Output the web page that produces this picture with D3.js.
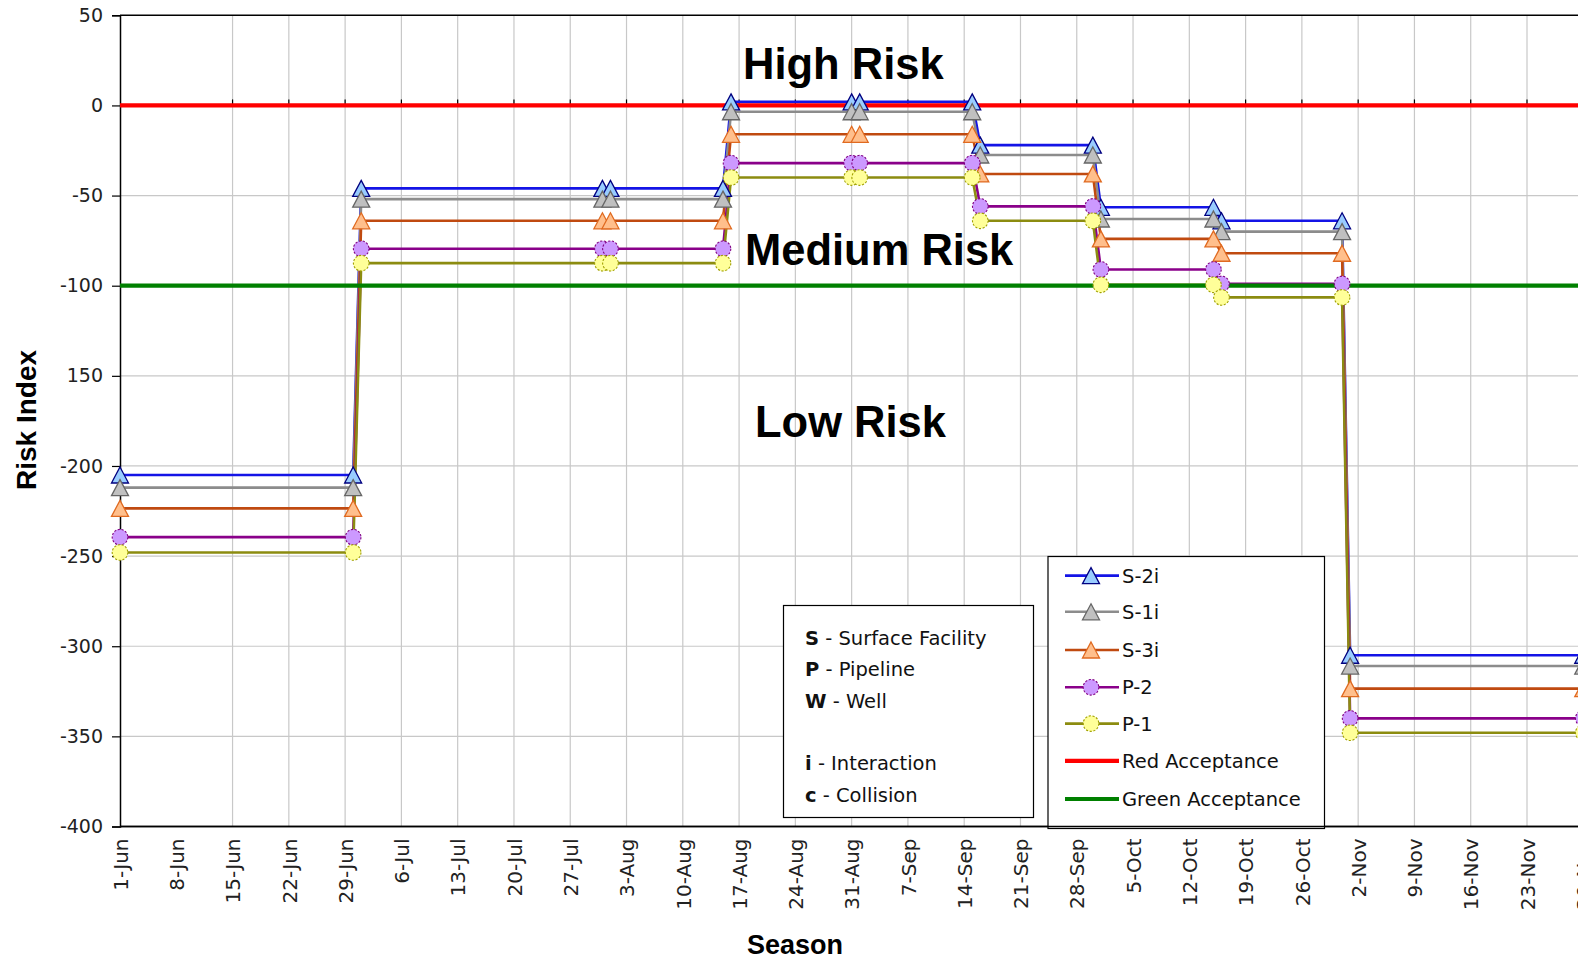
<!DOCTYPE html>
<html><head><meta charset="utf-8">
<script src="https://cdn.jsdelivr.net/npm/d3@7"></script>
<style>body{margin:0;background:#fff} svg{display:block}</style>
</head><body><svg id="c" width="1578" height="960"></svg>
<script>
// ---------- DATA ----------
const pointDates = ["1-Jun","30-Jun","1-Jul","31-Jul","1-Aug","15-Aug","16-Aug","31-Aug","1-Sep","15-Sep","16-Sep","30-Sep","1-Oct","15-Oct","16-Oct","31-Oct","1-Nov","30-Nov"];
const seriesNames = ["S-2i","S-1i","S-3i","P-2","P-1"];
const valS2i = [-205,-205,-46,-46,-46,-46,2,2,2,2,-22,-22,-56.5,-56.5,-64,-64,-305,-305];
const valS1i = [-212,-212,-52,-52,-52,-52,-3.5,-3.5,-3.5,-3.5,-27.5,-27.5,-63,-63,-70,-70,-311,-311];
const valS3i = [-223.5,-223.5,-64,-64,-64,-64,-16,-16,-16,-16,-38,-38,-74,-74,-82,-82,-323.5,-323.5];
const valP2  = [-239.5,-239.5,-79.5,-79.5,-79.5,-79.5,-32,-32,-32,-32,-56,-56,-91,-91,-99,-99,-340,-340];
const valP1  = [-248,-248,-87.5,-87.5,-87.5,-87.5,-40,-40,-40,-40,-64,-64,-99.5,-99.5,-106.5,-106.5,-348,-348];
const acceptanceNames = ["Red Acceptance","Green Acceptance"];
const acceptanceValues = [0,-100];
const yTickValues = [50,0,-50,-100,-150,-200,-250,-300,-350,-400];
const yTickLabels = ["50","0","-50","-100","150","-200","-250","-300","-350","-400"];
const xTickLabels = ["1-Jun","8-Jun","15-Jun","22-Jun","29-Jun","6-Jul","13-Jul","20-Jul","27-Jul","3-Aug","10-Aug","17-Aug","24-Aug","31-Aug","7-Sep","14-Sep","21-Sep","28-Sep","5-Oct","12-Oct","19-Oct","26-Oct","2-Nov","9-Nov","16-Nov","23-Nov","30-Nov"];
const xGridLabels = xTickLabels.slice(2);
const zoneLabels = ["High Risk","Medium Risk","Low Risk"];
const keyLetters = ["S","P","W",null,"i","c"];
const keyMeanings = ["Surface Facility","Pipeline","Well",null,"Interaction","Collision"];

// ---------- SETUP ----------
const parse = s => d3.utcParse("%d-%b-%Y")(s + "-2007");
const W = 1578, H = 960;
const plotL = 120, plotT = 15.3, plotB = 826.5;
const x = d3.scaleUtc().domain([parse("1-Jun"), parse("7-Dec")]).range([plotL, plotL + 189 * 8.04]);
const y = d3.scaleLinear().domain([-400, 50]).range([plotB, plotT]);
const svg = d3.select("#c");
const FONT = "DejaVu Sans";

const styles = [
  {line:"#1414e6", fill:"#99ccff", stroke:"#000080", shape:"tri"},
  {line:"#8c8c8c", fill:"#c0c0c0", stroke:"#666666", shape:"tri"},
  {line:"#c04a10", fill:"#ffbf8c", stroke:"#e06a20", shape:"tri"},
  {line:"#8a008a", fill:"#cc99ff", stroke:"#800080", shape:"circ"},
  {line:"#8c8c10", fill:"#ffff99", stroke:"#a0a000", shape:"circ"}
];
const accColors = ["#ff0000","#008000"];
const allVals = [valS2i, valS1i, valS3i, valP2, valP1];
const series = seriesNames.map((n,i)=>({name:n, style:styles[i], pts: pointDates.map((d,j)=>({d:parse(d), v:allVals[i][j]}))}));

svg.append("rect").attr("width",W).attr("height",H).attr("fill","#fff");

// gridlines
const grid = svg.append("g").attr("stroke","#c8c8c8").attr("stroke-width",1.2);
xGridLabels.forEach(l=>{
  grid.append("line").attr("x1",x(parse(l))).attr("x2",x(parse(l))).attr("y1",plotT).attr("y2",plotB);
});
yTickValues.filter(v=>v!==50 && v!==-400).forEach(v=>{
  grid.append("line").attr("x1",plotL).attr("x2",W).attr("y1",y(v)).attr("y2",y(v));
});

// small ticks on the zero line
const zt = svg.append("g").attr("stroke","#000").attr("stroke-width",1.2);
xGridLabels.forEach(l=>{
  zt.append("line").attr("x1",x(parse(l))).attr("x2",x(parse(l))).attr("y1",y(0)-6).attr("y2",y(0));
});

// frame
svg.append("line").attr("x1",plotL).attr("x2",W).attr("y1",plotT).attr("y2",plotT).attr("stroke","#000").attr("stroke-width",1.5);

// axes
const yAxis = d3.axisLeft(y).tickValues(yTickValues).tickFormat((d,i)=>yTickLabels[i]).tickSize(8).tickPadding(9);
const gy = svg.append("g").attr("transform",`translate(${plotL},0)`).call(yAxis);
gy.select(".domain").attr("stroke","#000").attr("stroke-width",1.5);
gy.selectAll(".tick line").attr("stroke","#000").attr("stroke-width",1.2);
gy.selectAll("text").attr("font-family",FONT).attr("font-size","19px").attr("fill","#222");

const xAxis = d3.axisBottom(x).tickValues(xTickLabels.map(parse)).tickFormat((d,i)=>xTickLabels[i]).tickSize(0).tickPadding(0);
const gx = svg.append("g").attr("transform",`translate(0,${plotB})`).call(xAxis);
gx.select(".domain").attr("stroke","#000").attr("stroke-width",1.5).attr("d",`M${plotL},0H${W}`);
gx.selectAll("text").attr("font-family",FONT).attr("font-size","20px").attr("fill","#222")
  .attr("text-anchor","end").attr("transform","rotate(-90)").attr("x",-12).attr("y",0).attr("dy","0.36em");

// series lines
const line = d3.line().x(p=>x(p.d)).y(p=>y(p.v));
series.forEach(s=>{
  svg.append("path").attr("d",line(s.pts)).attr("fill","none").attr("stroke",s.style.line).attr("stroke-width",2.6);
});

// acceptance lines
acceptanceValues.forEach((v,i)=>{
  svg.append("line").attr("x1",x(parse("1-Jun"))).attr("x2",W).attr("y1",y(v)).attr("y2",y(v))
    .attr("stroke",accColors[i]).attr("stroke-width",4.2);
});

// markers
const triPath = (w,h)=>`M0,${-h/2}L${w/2},${h/2}L${-w/2},${h/2}Z`;
function marker(g, st){
  if(st.shape==="tri"){
    g.append("path").attr("d",triPath(17,16)).attr("fill",st.fill).attr("stroke",st.stroke).attr("stroke-width",1.3);
  } else {
    g.append("circle").attr("r",7.8).attr("fill",st.fill).attr("stroke",st.stroke).attr("stroke-width",1.1).attr("stroke-dasharray","2.2,1.6");
  }
}
series.forEach(s=>{
  s.pts.forEach(p=>{
    const g = svg.append("g").attr("transform",`translate(${x(p.d)},${y(p.v)})`);
    marker(g, s.style);
  });
});

// zone labels
const zonePos = [[743,79],[745,265],[755,437]];
zoneLabels.forEach((t,i)=>{
  svg.append("text").attr("x",zonePos[i][0]).attr("y",zonePos[i][1]).text(t)
    .attr("font-family","Liberation Sans").attr("font-weight","bold").attr("font-size","43.5px").attr("fill","#000");
});

// axis titles
svg.append("text").attr("transform","translate(26,420) rotate(-90)").attr("text-anchor","middle").attr("dy","0.36em")
  .attr("font-family","Liberation Sans").attr("font-weight","bold").attr("font-size","28px").text("Risk Index");
svg.append("text").attr("x",795).attr("y",954).attr("text-anchor","middle")
  .attr("font-family","Liberation Sans").attr("font-weight","bold").attr("font-size","27px").text("Season");

// key box
svg.append("rect").attr("x",783.5).attr("y",605.5).attr("width",250).attr("height",212).attr("fill","#fff").attr("stroke","#000").attr("stroke-width",1.2);
const keyY = [638,669,700.5,731.5,763,795];
keyLetters.forEach((k,i)=>{
  if(!k) return;
  const t = svg.append("text").attr("x",805).attr("y",keyY[i]).attr("dy","0.36em").attr("font-family",FONT).attr("font-size","19.5px").attr("fill","#111");
  t.append("tspan").attr("font-weight","bold").text(k);
  t.append("tspan").text(" - " + keyMeanings[i]);
});

// legend
svg.append("rect").attr("x",1048).attr("y",556.5).attr("width",276.5).attr("height",272).attr("fill","#fff").attr("stroke","#000").attr("stroke-width",1.2);
const legY = [575.6,611.8,650,687.3,723.6,760.8,799];
const legNames = seriesNames.concat(acceptanceNames);
legNames.forEach((n,i)=>{
  const yy = legY[i];
  const isSeries = i < seriesNames.length;
  const col = isSeries ? styles[i].line : accColors[i-seriesNames.length];
  svg.append("line").attr("x1",1065).attr("x2",1119).attr("y1",yy).attr("y2",yy).attr("stroke",col).attr("stroke-width",isSeries?2.6:4.2);
  if(isSeries){ marker(svg.append("g").attr("transform",`translate(1091,${yy})`), styles[i]); }
  svg.append("text").attr("x",1122).attr("y",yy).attr("dy","0.36em").attr("font-family",FONT).attr("font-size","19.5px").attr("fill","#111").text(n);
});
// bottom axis redraw over legend box
svg.append("line").attr("x1",plotL).attr("x2",W).attr("y1",plotB).attr("y2",plotB).attr("stroke","#000").attr("stroke-width",1.5);
</script></body></html>
